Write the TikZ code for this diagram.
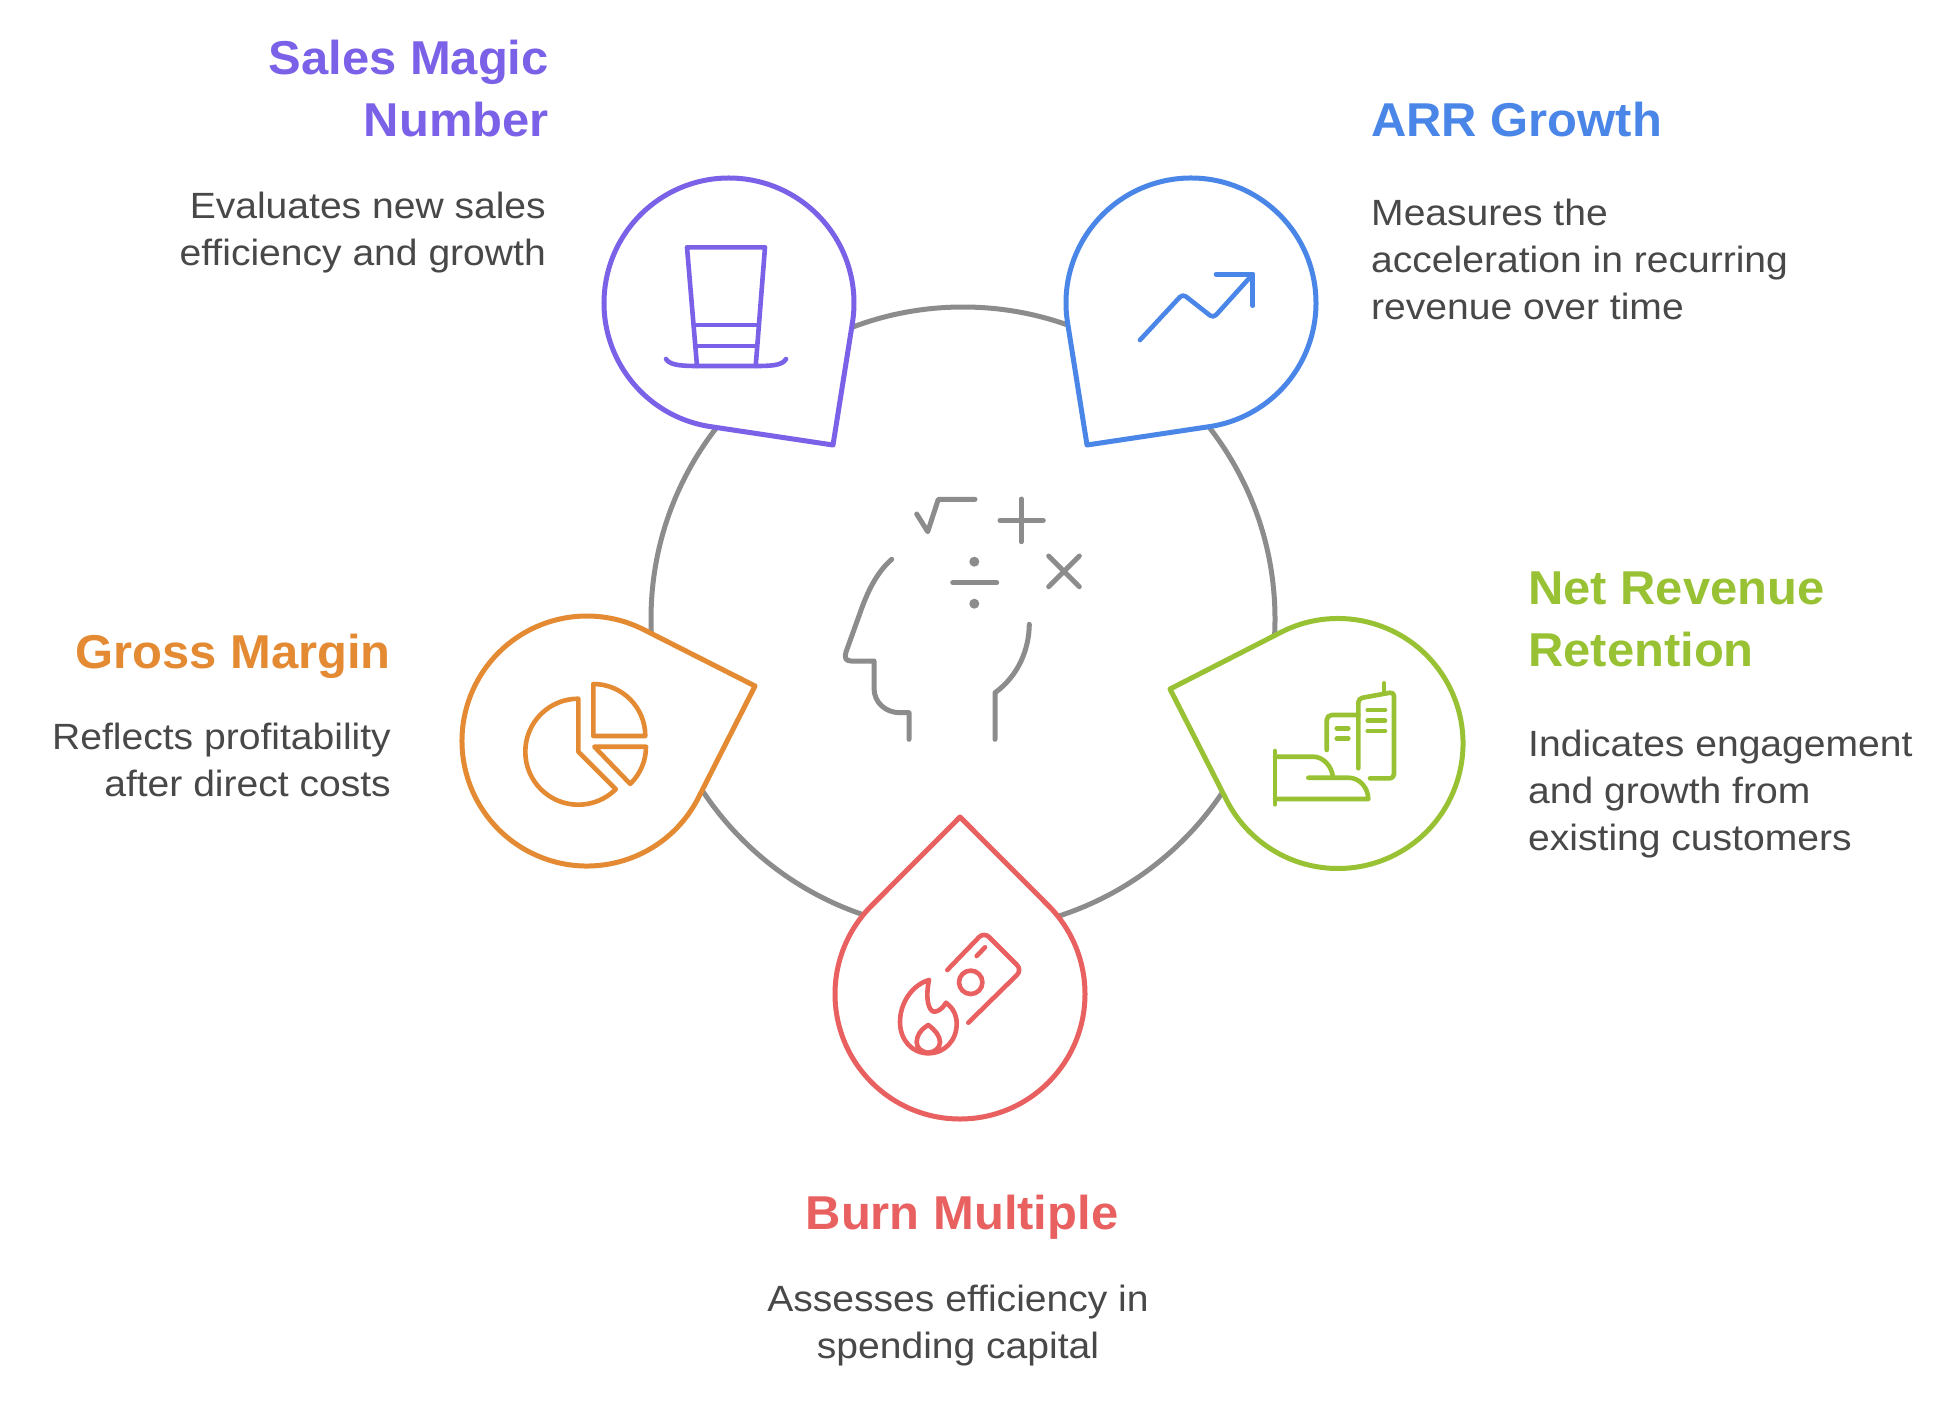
\documentclass[tikz,border=0pt]{standalone}
\usepackage{fontspec}
\setmainfont[FakeStretch=1.07,BoldFeatures={FakeStretch=1.03}]{Liberation Sans}
\definecolor{cPurple}{HTML}{7B61E8}
\definecolor{cBlue}{HTML}{4A86E8}
\definecolor{cGreen}{HTML}{98C233}
\definecolor{cRed}{HTML}{E8605F}
\definecolor{cOrange}{HTML}{E38A33}
\definecolor{cGrey}{HTML}{8C8C8C}
\definecolor{cText}{HTML}{484848}
\tikzset{
  headtext/.style={inner sep=0pt,font=\fontsize{47.5}{62}\bfseries\selectfont},
  bodytext/.style={inner sep=0pt,text=cText,font=\fontsize{36.5}{47}\selectfont},
  tearline/.style={line width=5pt,line join=round,fill=white},
  iconline/.style={line width=4.6pt,line cap=round,line join=round},
  greyicon/.style={line width=5pt,line cap=round,line join=round,draw=cGrey},
}
\newcommand{\teardrop}[7]{%
  \pgfmathsetmacro{\tdd}{veclen(#5-#2,#6-#3)}%
  \pgfmathsetmacro{\tda}{acos(#4/\tdd)}%
  \pgfmathsetmacro{\tdt}{atan2(#6-#3,#5-#2)}%
  \pgfmathsetmacro{\tdsx}{#2+#4*cos(\tdt+\tda)}%
  \pgfmathsetmacro{\tdsy}{#3+#4*sin(\tdt+\tda)}%
  \pgfmathsetmacro{\tdend}{\tdt-\tda+360}%
  \coordinate (#1tip) at (#5,#6);
  \coordinate (#1start) at (\tdsx,\tdsy);
  \draw[tearline,draw=#7] (#1tip) -- (#1start)
    arc[start angle={\tdt+\tda},end angle=\tdend,radius=#4 pt] -- cycle;
}
\begin{document}
\begin{tikzpicture}[x=1pt,y=1pt,yscale=-1]
\path[use as bounding box,fill=white] (0,0) rectangle (1937,1400);
\node[circle,draw=cGrey,line width=5pt,minimum size=624pt,inner sep=0pt] (ring) at (963,619) {};

\teardrop{sales}{729}{303}{125}{833}{445}{cPurple}
\teardrop{arr}{1191}{303}{125}{1087}{445}{cBlue}
\teardrop{net}{1338}{743.5}{125}{1170}{689}{cGreen}
\teardrop{burn}{960}{994}{125}{960}{817}{cRed}
\teardrop{gross}{587}{741}{125}{755}{686}{cOrange}

% top hat
\begin{scope}[iconline,draw=cPurple]
\draw (697,366) -- (687,247.3) -- (765,247.3) -- (755.7,366);
\draw (695,325) -- (757.5,325);
\draw (696.5,346) -- (756,346);
\draw (666,359) .. controls (670,366) and (685,366) .. (700,366) -- (752,366) .. controls (770,366) and (782,366) .. (786,359);
\end{scope}

% chart arrow
\begin{scope}[iconline,draw=cBlue]
\draw[rounded corners=4pt] (1140,340) -- (1182.7,294) -- (1213.3,318) -- (1252.7,274.3);
\draw (1216,274.3) -- (1252.7,274.3) -- (1252.7,305.7);
\end{scope}

% head with maths
\begin{scope}[greyicon]
\draw (916.7,514) -- (927.7,531.7) -- (938.3,499.3) -- (975,499.3);
\draw (1000,520.3) -- (1043.3,520.3) (1021.3,499) -- (1021.3,541.7);
\draw (1048.7,556) -- (1079.3,586.7) (1079.3,556) -- (1048.7,586.7);
\draw (952.7,582.7) -- (996.7,582.7);
\fill[cGrey] (974.3,561.7) circle[radius=5pt] (974.3,603.7) circle[radius=5pt];
\draw (891.7,559.3) .. controls (876,573) and (867,593) .. (860,613) -- (846,652)
  .. controls (844,658) and (846,661) .. (851,661) -- (874,661) -- (874,688)
  .. controls (874,703) and (886,712.7) .. (900,712.7) -- (909,712.7) -- (909,739.3);
\draw (1029.3,624.3) .. controls (1029,650) and (1018,676) .. (995,692.7) -- (995,739.3);
\end{scope}

% hand and buildings
\begin{scope}[iconline,draw=cGreen]
\draw (1275,751) -- (1275,804.3);
\draw (1275,756.7) -- (1313.3,756.7) .. controls (1323,756.7) and (1332,766) .. (1333,777.7);
\draw (1308.3,777.7) -- (1348.3,777.7) .. controls (1360,777.7) and (1368,788) .. (1368.3,799) -- (1275,799);
\draw[rounded corners=5pt] (1326.7,750) -- (1326.7,715) -- (1358.3,715);
\draw[rounded corners=4pt] (1358.3,768.3) -- (1358.3,698.5) -- (1394,692) -- (1394,778.3) -- (1370,778.3);
\draw (1384,683.3) -- (1384,693);
\draw (1367.7,710) -- (1385,710) (1367.7,720.7) -- (1385,720.7) (1367.7,731) -- (1385,731);
\draw (1336.7,728.3) -- (1348.3,728.3) (1336.7,738.7) -- (1348.3,738.7);
\end{scope}

% burning banknote
\begin{scope}[iconline,draw=cRed]
\draw[rounded corners=7pt] (947.3,970) -- (984,932) -- (1022,970) -- (968.3,1022.7);
\draw (970.7,982.3) circle[radius=11.7pt];
\draw (976.7,956) -- (985,947.3);
\draw (929,980) .. controls (912,985) and (900,1003) .. (900,1022)
  .. controls (900,1040) and (912,1053.3) .. (928.3,1053.3)
  .. controls (945,1053.3) and (957,1040) .. (956.7,1023)
  .. controls (956.5,1014) and (952,1007) .. (946,1002.7)
  .. controls (943,1008) and (938,1012) .. (934,1011.7)
  .. controls (929,1011) and (925,1000) .. (929,980);
\draw (928.3,1025) .. controls (920,1030) and (916.7,1036) .. (916.7,1042)
  .. controls (916.7,1048) and (921,1052) .. (928.3,1052.7)
  .. controls (935,1052) and (940,1048) .. (940,1042)
  .. controls (940,1036) and (935,1030) .. (928.3,1025);
\end{scope}

% pie chart
\begin{scope}[iconline,draw=cOrange]
\draw (578.3,751.7) ++(270:53pt) arc[start angle=270,end angle=45,radius=53pt] -- (578.3,751.7) -- cycle;
\draw (593.3,736) -- (593.3,684) arc[start angle=270,end angle=360,radius=52pt] -- cycle;
\draw (594.3,746.7) -- (646,746.7) arc[start angle=0,end angle=46,radius=51.7pt] -- cycle;
\end{scope}

% labels
\node[headtext,text=cPurple,align=right,anchor=north east] (t1) at (549,40) {Sales Magic\\Number};
\node[bodytext,align=right,anchor=north east] (b1) at (546,192) {Evaluates new sales\\efficiency and growth};
\node[headtext,text=cBlue,align=left,anchor=north west] (t2) at (1371,102) {ARR Growth};
\node[bodytext,align=left,anchor=north west] (b2) at (1371,199) {Measures the\\acceleration in recurring\\revenue over time};
\node[headtext,text=cGreen,align=left,anchor=north west] (t3) at (1528,572) {Net Revenue\\Retention};
\node[bodytext,align=left,anchor=north west] (b3) at (1528,730) {Indicates engagement\\and growth from\\existing customers};
\node[headtext,text=cOrange,align=right,anchor=north east] (t4) at (391,634) {Gross Margin};
\node[bodytext,align=right,anchor=north east] (b4) at (391,722.5) {Reflects profitability\\after direct costs};
\node[headtext,text=cRed,align=center,anchor=north] (t5) at (962,1195) {Burn Multiple};
\node[bodytext,align=center,anchor=north] (b5) at (958,1285) {Assesses efficiency in\\spending capital};
\end{tikzpicture}
\end{document}
